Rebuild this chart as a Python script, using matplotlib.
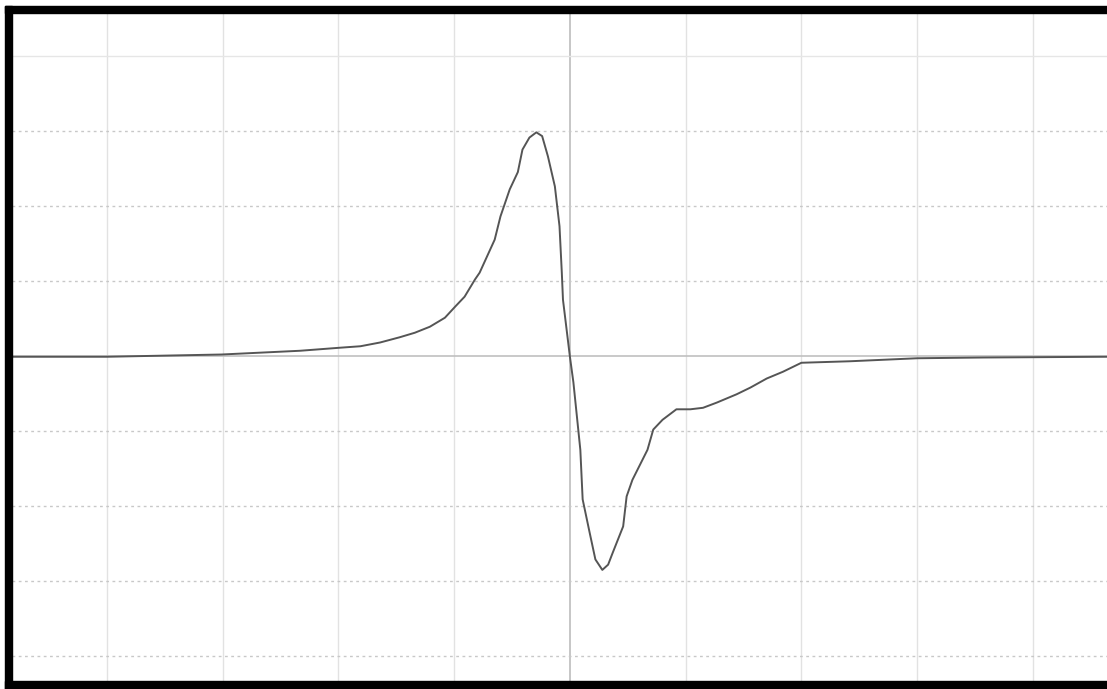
import matplotlib
matplotlib.use('Agg')
import matplotlib.pyplot as plt
from matplotlib.patches import Rectangle

# trace, in grid divisions (x: time div, y: amplitude div)
x_div = [-4.82, -4.00, -3.01, -2.33, -1.99, -1.81, -1.64, -1.47, -1.34, -1.21,
         -1.08, -0.99, -0.91, -0.82, -0.78, -0.65, -0.60, -0.52, -0.45, -0.41,
         -0.35, -0.29, -0.24, -0.19, -0.13, -0.09, -0.07, -0.06, 0.00, 0.03,
         0.09, 0.11, 0.17, 0.22, 0.28, 0.33, 0.37, 0.46, 0.49, 0.54,
         0.67, 0.72, 0.80, 0.92, 1.04, 1.15, 1.27, 1.44, 1.56, 1.70,
         1.84, 2.00, 2.42, 3.00, 3.57, 4.64]
y_div = [-0.01, -0.01, 0.02, 0.07, 0.11, 0.13, 0.18, 0.25, 0.31, 0.39,
         0.51, 0.66, 0.79, 1.02, 1.11, 1.55, 1.86, 2.22, 2.45, 2.75,
         2.91, 2.98, 2.93, 2.66, 2.26, 1.73, 1.11, 0.75, -0.01, -0.35,
         -1.25, -1.91, -2.35, -2.71, -2.85, -2.78, -2.62, -2.27, -1.87, -1.65,
         -1.25, -0.98, -0.85, -0.71, -0.71, -0.69, -0.62, -0.51, -0.42, -0.30,
         -0.21, -0.09, -0.07, -0.03, -0.02, -0.01]
grid_x = [-4, -3, -2, -1, 0, 1, 2, 3, 4]
grid_y = [-4, -3, -2, -1, 0, 1, 2, 3, 4]

W, H = 1107, 689
fig = plt.figure(figsize=(W / 100, H / 100), dpi=100)
fig.patch.set_facecolor('white')

# plot area in pixels: left 12, top 13, bottom 681, open on the right
ax = fig.add_axes([12 / W, (H - 681) / H, (W - 12) / W, (681 - 13) / H])
ax.set_xlim(-4.82, 4.64)
ax.set_ylim(-4.33, 4.57)
for s in ax.spines.values():
    s.set_visible(False)
ax.set_xticks([])
ax.set_yticks([])

# graticule
for gx in grid_x:
    if gx == 0:
        ax.axvline(gx, color='#bcbcbc', lw=1.2, zorder=1)
    else:
        ax.axvline(gx, color='#e2e2e2', lw=1.0, zorder=1)
for gy in grid_y:
    if gy == 0:
        ax.axhline(gy, color='#c0c0c0', lw=1.2, zorder=1)
    elif gy == 4:
        ax.axhline(gy, color='#e6e6e6', lw=1.0, zorder=1)
    else:
        ax.axhline(gy, color='#c8c8c8', lw=1.0, ls=(0, (2, 2.5)), zorder=1)

ax.plot(x_div, y_div, color='#555555', lw=1.4, zorder=3,
        solid_joinstyle='round')

# thick black frame (top, left, bottom)
fig.patches.append(Rectangle((5 / W, (H - 13) / H), (W - 5) / W, 7 / H,
                             transform=fig.transFigure, color='black'))
fig.patches.append(Rectangle((5 / W, 0), 7 / W, (H - 6) / H,
                             transform=fig.transFigure, color='black'))
fig.patches.append(Rectangle((5 / W, 0), (W - 5) / W, 8 / H,
                             transform=fig.transFigure, color='black'))

fig.savefig('out.png', dpi=100)
